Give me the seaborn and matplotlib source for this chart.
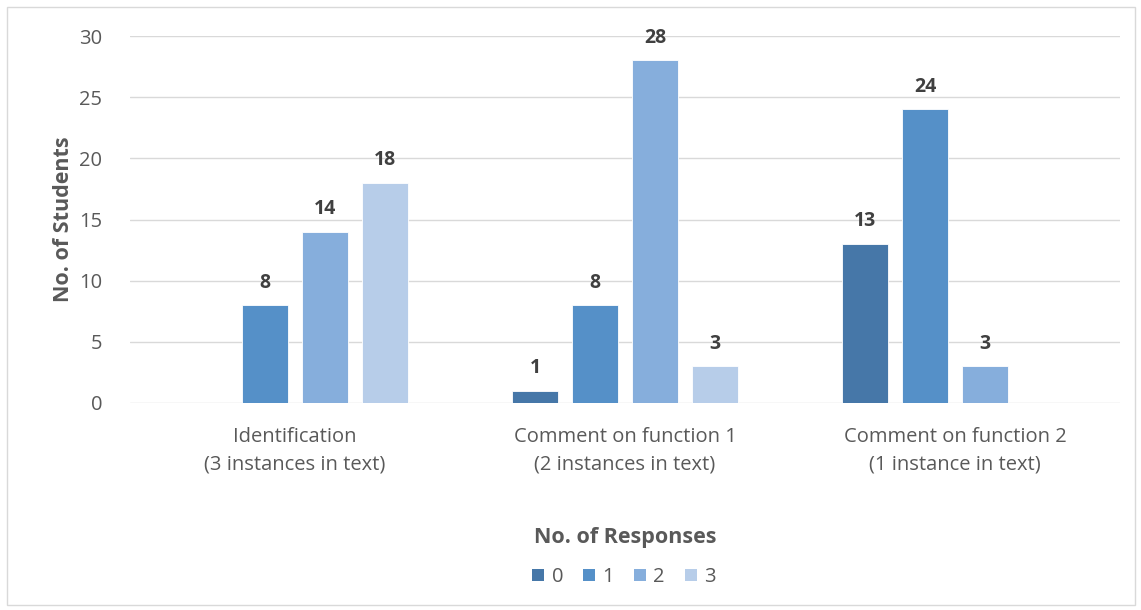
import matplotlib
matplotlib.use("Agg")
import matplotlib.pyplot as plt
from matplotlib.patches import Rectangle, Patch
import seaborn as sns
import pandas as pd

categories = [
    "Identification\n(3 instances in text)",
    "Comment on function 1\n(2 instances in text)",
    "Comment on function 2\n(1 instance in text)",
]
responses = ["0", "1", "2", "3"]
students_0 = [0, 1, 13]
students_1 = [8, 8, 24]
students_2 = [14, 28, 3]
students_3 = [18, 3, 0]
yticks = [0, 5, 10, 15, 20, 25, 30]

colors = ["#4677A8", "#5590C8", "#86AEDC", "#B7CDE9"]

rows = []
for resp, vals in zip(responses, [students_0, students_1, students_2, students_3]):
    for cat, v in zip(categories, vals):
        rows.append({"category": cat, "responses": resp, "students": v})
df = pd.DataFrame(rows)

sns.set_theme(style="white")
plt.rcParams["font.family"] = ["Open Sans", "DejaVu Sans"]

fig = plt.figure(figsize=(11.41, 6.10), dpi=100)
ax = fig.add_axes([130 / 1141, 1 - 403 / 610, 990 / 1141, 367 / 610])

sns.barplot(data=df, x="category", y="students", hue="responses",
            order=categories, hue_order=responses, palette=colors,
            width=0.727, gap=0.22, ax=ax, legend=False,
            edgecolor="white", linewidth=0.6, saturation=1)

for container in ax.containers:
    for bar in container:
        h = bar.get_height()
        if h > 0:
            ax.annotate(f"{int(h)}", (bar.get_x() + bar.get_width() / 2, h),
                        xytext=(0, 9), textcoords="offset points",
                        ha="center", va="bottom", fontsize=14,
                        fontweight="bold", color="#404040")

ax.set_xlim(-0.5, 2.5)
ax.set_ylim(0, 30)
ax.set_yticks(yticks)
ax.yaxis.grid(True, color="#D9D9D9", linewidth=1)
ax.set_axisbelow(True)
for s in ax.spines.values():
    s.set_visible(False)
ax.tick_params(axis="y", length=0, pad=20, labelsize=14.5, labelcolor="#595959")
ax.tick_params(axis="x", length=0, pad=17, labelsize=14.5, labelcolor="#595959")
for lbl in ax.get_xticklabels():
    lbl.set_linespacing(1.55)
ax.set_xlabel("")
ax.set_ylabel("No. of Students", fontsize=15.5, fontweight="bold",
              color="#595959", labelpad=4)

fig.text(625 / 1141, 1 - 537 / 610, "No. of Responses", ha="center",
         va="center", fontsize=15.5, fontweight="bold", color="#595959")

handles = [Patch(facecolor=c, edgecolor="none") for c in colors]
fig.legend(handles, responses, loc="center", ncol=4,
           bbox_to_anchor=(624 / 1141, 1 - 577 / 610), frameon=False,
           handlelength=0.6, handleheight=0.6, handletextpad=0.35,
           columnspacing=1.0, fontsize=14.5, labelcolor="#595959")

fig.patches.append(Rectangle((7 / 1141, 5 / 610), 1128 / 1141, 598 / 610,
                             transform=fig.transFigure, fill=False,
                             edgecolor="#D9D9D9", linewidth=1))

fig.savefig("out.png", dpi=100)
